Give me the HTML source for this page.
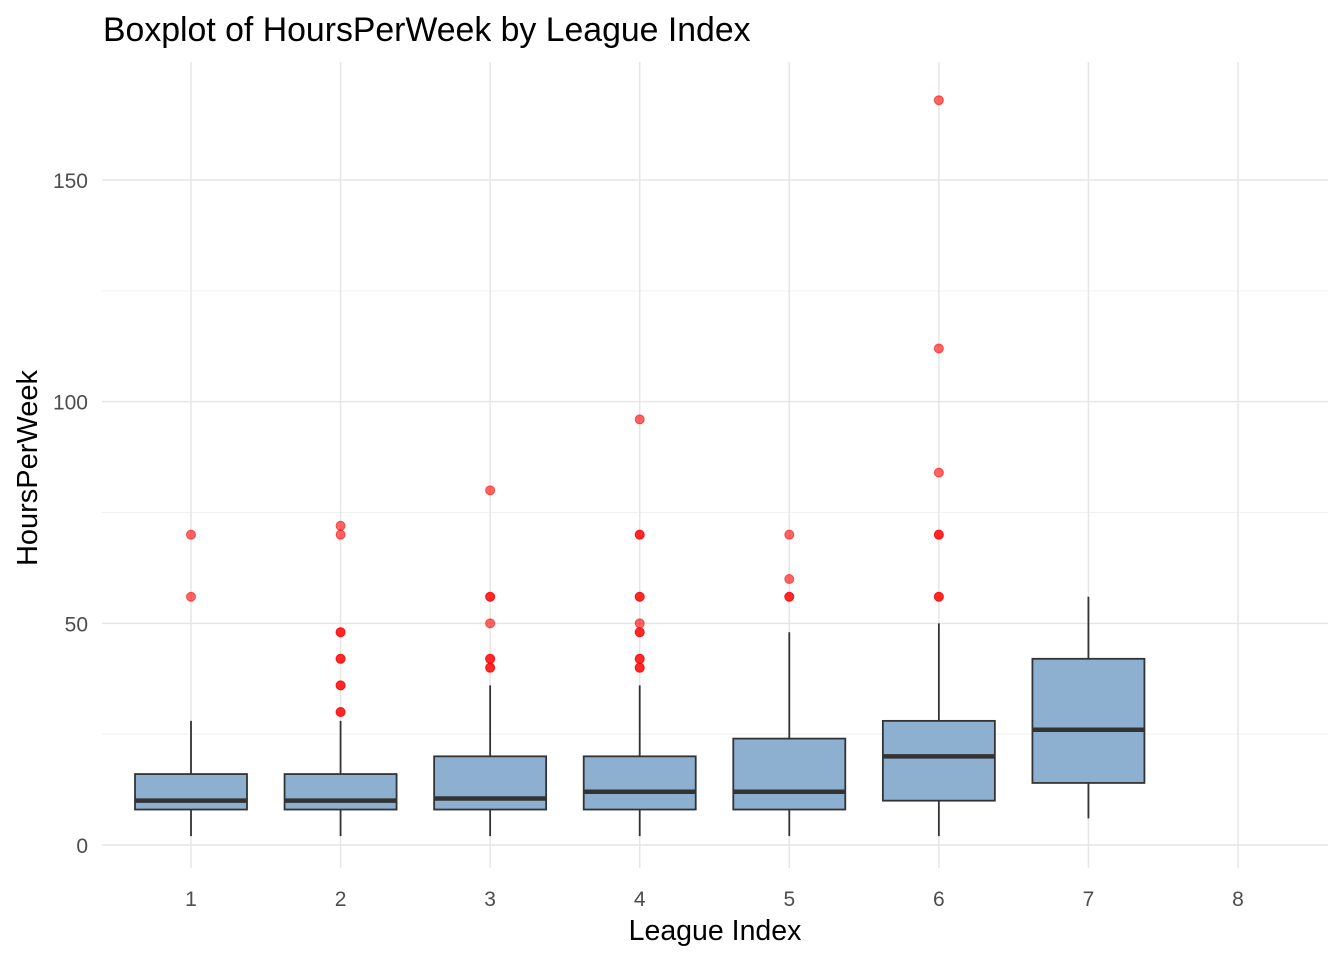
<!DOCTYPE html>
<html><head><meta charset="utf-8"><style>
body{margin:0;background:#fff;font-family:"Liberation Sans",Arial,sans-serif;}
</style></head><body>
<svg id="chart" width="1344" height="960" xmlns="http://www.w3.org/2000/svg">
<rect width="1344" height="960" fill="#fff"/>
<text x="103" y="41" font-size="33.8" fill="#000">Boxplot of HoursPerWeek by League Index</text>
<g id="grid"></g>
<g id="marks"></g>
<g id="axes"></g>
<text x="715" y="940" font-size="28.5" text-anchor="middle" fill="#000">League Index</text>
<text transform="translate(37,468) rotate(-90)" font-size="29" text-anchor="middle" fill="#000">HoursPerWeek</text>
</svg>
<script>
const categories=[1,2,3,4,5,6,7,8];
const whiskerLow=[2,2,2,2,2,2,6,null];
const q1=[8,8,8,8,8,10,14,null];
const median=[10,10,10.5,12,12,20,26,null];
const q3=[16,16,20,20,24,28,42,null];
const whiskerHigh=[28,28,36,36,48,50,56,null];
const outliers=[[56,70],[30,30,36,36,42,42,48,48,70,72],[40,40,42,42,50,56,56,80],[40,40,42,42,48,48,50,56,56,70,70,96],[56,56,60,70],[56,56,70,70,84,112,168],[],[]];
const yMajor=[0,50,100,150];
const yMinor=[25,75,125];

const NS="http://www.w3.org/2000/svg";
const L=102,R=1328,T=62,B=868;
const y=v=>845-v*(665/150);
const x=c=>191+(c-1)*(1047/7);
const bw=112;
function mk(parent,tag,attrs){const e=document.createElementNS(NS,tag);for(const k in attrs)e.setAttribute(k,attrs[k]);parent.appendChild(e);return e;}
const grid=document.getElementById('grid'),marks=document.getElementById('marks'),axes=document.getElementById('axes');
yMinor.forEach(v=>{const l=mk(grid,'line',{x1:L,x2:R,y1:y(v),y2:y(v),stroke:'#f0f0f0','stroke-width':1});

});
yMajor.forEach(v=>{const l=mk(grid,'line',{x1:L,x2:R,y1:y(v),y2:y(v),stroke:'#e6e6e6','stroke-width':1.5});


const t=mk(axes,'text',{x:88,y:y(v)+8,'font-size':21,'text-anchor':'end',fill:'#4d4d4d'});t.textContent=v;

});
categories.forEach((c,i)=>{const l=mk(grid,'line',{x1:x(c),x2:x(c),y1:T,y2:B,stroke:'#e6e6e6','stroke-width':1.5});


const t=mk(axes,'text',{x:x(c),y:906,'font-size':21,'text-anchor':'middle',fill:'#4d4d4d'});t.textContent=c;


if(q1[i]==null)return;
const g=mk(marks,'g',{});


mk(g,'line',{x1:x(c),x2:x(c),y1:y(whiskerLow[i]),y2:y(q1[i]),stroke:'#333','stroke-width':1.8});
mk(g,'line',{x1:x(c),x2:x(c),y1:y(q3[i]),y2:y(whiskerHigh[i]),stroke:'#333','stroke-width':1.8});
mk(g,'rect',{x:x(c)-bw/2,y:y(q3[i]),width:bw,height:y(q1[i])-y(q3[i]),fill:'#8eb0d0',stroke:'#333','stroke-width':1.8});
mk(g,'line',{x1:x(c)-bw/2,x2:x(c)+bw/2,y1:y(median[i]),y2:y(median[i]),stroke:'#333','stroke-width':4.5});
outliers[i].forEach(o=>{const p=mk(marks,'circle',{cx:x(c),cy:y(o),r:4.5,fill:'#ff0000','fill-opacity':0.6,stroke:'#ff0000','stroke-opacity':0.6});

});
});
</script>
</body></html>
